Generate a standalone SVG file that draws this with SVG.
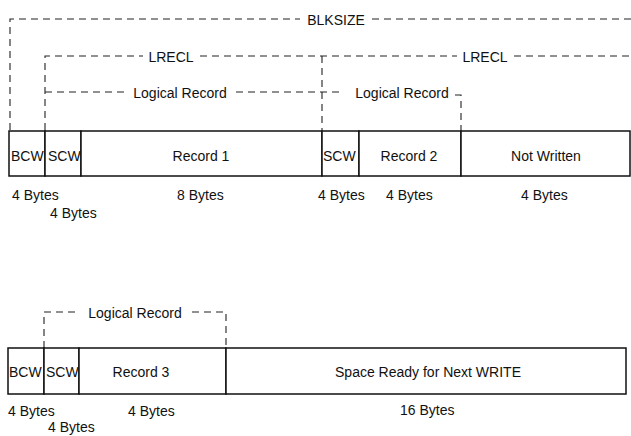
<svg xmlns="http://www.w3.org/2000/svg" width="631" height="436" viewBox="0 0 631 436">
<style>
text{font-family:"Liberation Sans",Arial,sans-serif;font-size:14px;fill:#111}
.m{text-anchor:middle}
.box{fill:#fff;stroke:#111;stroke-width:1.5}
.dash{fill:none;stroke:#222;stroke-width:1.1;stroke-dasharray:7 5}
</style>
<rect width="631" height="436" fill="#fff"/>
<g id="connectors">
<path class="dash" d="M10,130 V19 H300"/>
<path class="dash" d="M372,19 H631"/>
<path class="dash" d="M45,130 V56 H143"/>
<path class="dash" d="M200,56 H457"/>
<path class="dash" d="M514,56 H631"/>
<path class="dash" d="M322,56 V130"/>
<path class="dash" d="M45,92 H124"/>
<path class="dash" d="M236,92 H344"/>
<path class="dash" d="M455,95 H461 V130"/>
<path class="dash" d="M44,348 V312 H80"/>
<path class="dash" d="M192,312 H226 V348"/>
</g>
<g id="labels">
<text class="m" x="336" y="25">BLKSIZE</text>
<text class="m" x="171" y="62">LRECL</text>
<text class="m" x="485" y="62">LRECL</text>
<text class="m" x="180" y="98">Logical Record</text>
<text class="m" x="402" y="98">Logical Record</text>
<text class="m" x="135" y="318">Logical Record</text>
</g>
<g id="bcw1"><rect class="box" x="9" y="131" width="36" height="45"/><text x="11" y="161">BCW</text><text x="12" y="200">4 Bytes</text></g>
<g id="scw1"><rect class="box" x="45" y="131" width="36" height="45"/><text x="48" y="161">SCW</text><text x="50" y="218">4 Bytes</text></g>
<g id="record1"><rect class="box" x="81" y="131" width="241" height="45"/><text class="m" x="201" y="161">Record 1</text><text x="177" y="200">8 Bytes</text></g>
<g id="scw2"><rect class="box" x="322" y="131" width="37" height="45"/><text x="323" y="161">SCW</text><text x="318" y="200">4 Bytes</text></g>
<g id="record2"><rect class="box" x="359" y="131" width="102" height="45"/><text class="m" x="409" y="161">Record 2</text><text x="386" y="200">4 Bytes</text></g>
<g id="notwritten"><rect class="box" x="461" y="131" width="169" height="45"/><text class="m" x="546" y="161">Not Written</text><text x="521" y="200">4 Bytes</text></g>
<g id="bcw3"><rect class="box" x="8" y="348" width="36" height="46"/><text x="9" y="377">BCW</text><text x="8" y="416">4 Bytes</text></g>
<g id="scw3"><rect class="box" x="44" y="348" width="35" height="46"/><text x="46" y="377">SCW</text><text x="48" y="432">4 Bytes</text></g>
<g id="record3"><rect class="box" x="79" y="348" width="147" height="46"/><text class="m" x="141" y="377">Record 3</text><text x="128" y="416">4 Bytes</text></g>
<g id="space"><rect class="box" x="226" y="348" width="400" height="46"/><text class="m" x="428" y="377">Space Ready for Next WRITE</text><text x="400" y="415">16 Bytes</text></g>
</svg>
